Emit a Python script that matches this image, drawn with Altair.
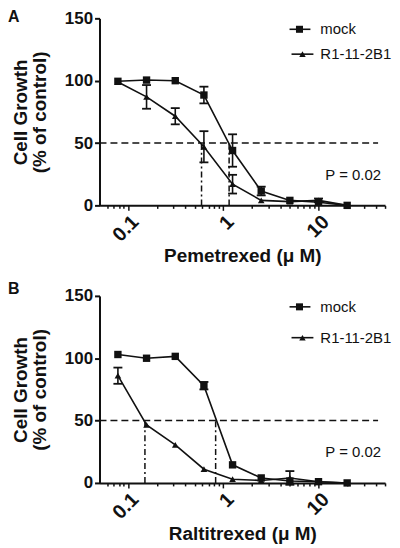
import altair as alt
import pandas as pd

# ---------------- data ----------------
conc = [0.078, 0.156, 0.3125, 0.625, 1.25, 2.5, 5, 10, 20]
series_names = ["mock", "R1-11-2B1"]

pem_mock = [99.5, 100.5, 100, 88.5, 44, 11.5, 4, 2.5, 0]
pem_mock_err = [0, 0, 0, 6.7, 13, 3.5, 0, 0, 0]
pem_r1 = [99, 87, 71.5, 47, 17, 4, 3, 4, 0]
pem_r1_err = [0, 9.5, 6.5, 12.5, 7.5, 0, 0, 1.5, 0]
pem_ic50 = [0.59, 1.15]

ral_mock = [103, 100, 101.5, 78, 14.5, 4, 1.5, 1, 0]
ral_mock_err = [0, 0, 0, 3, 0, 0, 0, 0, 0]
ral_r1 = [86, 46.5, 30.5, 11, 3, 2, 4, 1, 0]
ral_r1_err = [6.5, 0, 0, 0, 0, 0, 5.5, 0, 0]
ral_ic50 = [0.15, 0.83]

major_ticks = [0.1, 1, 10]
minor_ticks = [0.06, 0.07, 0.08, 0.09, 0.2, 0.3, 0.4, 0.5, 0.6, 0.7, 0.8, 0.9,
               2, 3, 4, 5, 6, 7, 8, 9, 20, 30, 40, 50]
y_ticks = [0, 50, 100, 150]

FONT = "Liberation Sans"
INK = "#111111"


def panel(letter, drug, mock, mock_err, r1, r1_err, ic50, legend_y, letter_y):
    rows = []
    for name, vals, errs in [("mock", mock, mock_err), ("R1-11-2B1", r1, r1_err)]:
        for c, v, e in zip(conc, vals, errs):
            rows.append(dict(conc=c, value=v, lo=v - e, hi=v + e, err=e, series=name))
    df = pd.DataFrame(rows)
    one = alt.Chart(pd.DataFrame({"k": [0]}))

    xs = alt.Scale(type="log", domain=[0.05, 50], nice=False)
    ys = alt.Scale(domain=[0, 150], nice=False, zero=True)

    x_axis = alt.Axis(
        orient="bottom", values=major_ticks, format="~g", labelOverlap=False,
        tickSize=5, tickWidth=1.5, tickColor=INK, domainColor=INK, domainWidth=2,
        labelAngle=-45, labelFont=FONT, labelFontSize=20, labelFontWeight="bold",
        labelColor=INK, labelPadding=1,
        titleFont=FONT, titleFontSize=19, titleFontWeight="bold", titleColor=INK,
        titlePadding=2, grid=False,
    )
    x_minor = alt.Axis(
        orient="bottom", values=minor_ticks, labels=False, domain=False, title=None,
        tickSize=3, tickWidth=1.5, tickColor=INK, grid=False,
    )
    y_axis = alt.Axis(
        values=y_ticks, tickSize=5, tickWidth=2, tickColor=INK, domainColor=INK, domainWidth=2,
        labelFont=FONT, labelFontSize=17, labelFontWeight="bold", labelColor=INK, labelPadding=2,
        titleFont=FONT, titleFontSize=19, titleFontWeight="bold", titleColor=INK,
        titleLineHeight=19, titlePadding=15, grid=False,
    )

    base = alt.Chart(df)
    X = alt.X("conc:Q", scale=xs, axis=None)
    Y = alt.Y("value:Q", scale=ys, axis=None)

    hline = one.mark_rule(color=INK, strokeWidth=1.5, strokeDash=[7, 4]).encode(
        x=alt.value(0), x2=alt.value(280), y=alt.datum(50, scale=ys, axis=None)
    )
    ic_df = pd.DataFrame({"ic50": ic50})
    vlines = alt.Chart(ic_df).mark_rule(color=INK, strokeWidth=1.5, strokeDash=[6, 3, 2, 3]).encode(
        x=alt.X("ic50:Q", scale=xs, axis=x_minor), y=alt.datum(0, scale=ys, axis=None), y2=alt.datum(50)
    )

    lines = base.mark_line(color=INK, strokeWidth=1.6).encode(
        x=alt.X("conc:Q", scale=xs, axis=x_axis, title=f"{drug} (\u03bc M)"),
        y=alt.Y("value:Q", scale=ys, axis=y_axis, title=["Cell Growth", "(% of control)"]),
        detail="series:N",
    )
    errd = base.transform_filter("datum.err > 0")
    err = errd.mark_rule(color=INK, strokeWidth=1.6).encode(
        x=X, y=alt.Y("lo:Q", scale=ys, axis=None), y2="hi:Q"
    )
    cap_lo = errd.mark_tick(orient="horizontal", size=9, thickness=1.8, color=INK, opacity=1).encode(
        x=X, y=alt.Y("lo:Q", scale=ys, axis=None)
    )
    cap_hi = errd.mark_tick(orient="horizontal", size=9, thickness=1.8, color=INK, opacity=1).encode(
        x=X, y=alt.Y("hi:Q", scale=ys, axis=None)
    )
    pts = base.mark_point(filled=True, opacity=1, color=INK).encode(
        x=X, y=Y,
        shape=alt.Shape("series:N", scale=alt.Scale(domain=series_names, range=["square", "triangle-up"]), legend=None),
        size=alt.Size("series:N", scale=alt.Scale(domain=series_names, range=[55, 45]), legend=None),
    )

    # manual legend
    my, ry = legend_y
    leg_line1 = one.mark_rule(color=INK, strokeWidth=1.6).encode(x=alt.value(191), x2=alt.value(212), y=alt.value(my))
    leg_line2 = one.mark_rule(color=INK, strokeWidth=1.6).encode(x=alt.value(193), x2=alt.value(215), y=alt.value(ry))
    leg_sq = one.mark_point(filled=True, opacity=1, color=INK, shape="square", size=50).encode(x=alt.value(201), y=alt.value(my))
    leg_tri = one.mark_point(filled=True, opacity=1, color=INK, shape="triangle-up", size=42).encode(x=alt.value(204), y=alt.value(ry))
    leg_t1 = one.mark_text(text="mock", align="left", baseline="middle", font=FONT, fontSize=15, color=INK).encode(x=alt.value(222), y=alt.value(my))
    leg_t2 = one.mark_text(text="R1-11-2B1", align="left", baseline="middle", font=FONT, fontSize=15, color=INK).encode(x=alt.value(222), y=alt.value(ry))

    ptxt = one.mark_text(text="P = 0.02", align="right", baseline="middle", font=FONT, fontSize=15, color=INK).encode(
        x=alt.value(283), y=alt.value(157)
    )
    lbl = one.mark_text(text=letter, align="left", baseline="alphabetic", font=FONT, fontSize=16, fontWeight="bold", color=INK).encode(
        x=alt.value(-92), y=alt.value(letter_y)
    )

    return alt.layer(
        hline, vlines, lines, err, cap_lo, cap_hi, pts,
        leg_line1, leg_line2, leg_sq, leg_tri, leg_t1, leg_t2, ptxt, lbl,
    ).resolve_axis(x="independent", y="independent").properties(width=287, height=188)


A = panel("A", "Pemetrexed", pem_mock, pem_mock_err, pem_r1, pem_r1_err, pem_ic50, (11, 36), 4)
B = panel("B", "Raltitrexed", ral_mock, ral_mock_err, ral_r1, ral_r1_err, ral_ic50, (11, 42), -2)

chart = alt.vconcat(A, B, spacing=15).properties(padding=0).configure_view(stroke=None)

chart.save("out.html", embed_options={"renderer": "svg", "actions": False})
